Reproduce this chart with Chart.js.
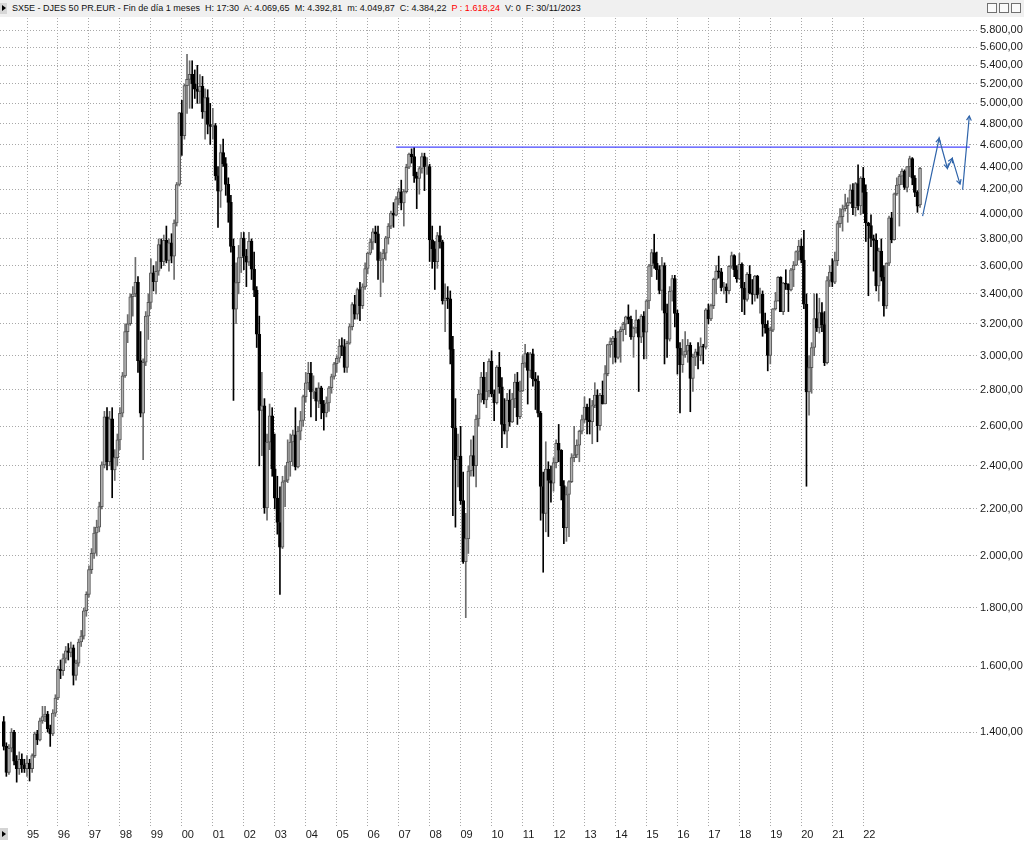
<!DOCTYPE html>
<html>
<head>
<meta charset="utf-8">
<title>SX5E - DJES 50 PR.EUR</title>
<script src="https://cdn.jsdelivr.net/npm/chart.js@4.4.1/dist/chart.umd.min.js"></script>
<style>
  html, body { margin:0; padding:0; background:#fff; }
  #wrap { position:relative; width:1024px; height:843px; overflow:hidden; background:#fff; }
  #chart { position:absolute; left:0; top:0; }
  #hdr { position:absolute; left:0; top:0; width:1024px; height:17px; background:#f0f0f0; z-index:2; }
  #ht { position:absolute; left:12px; top:2px; font-family:"Liberation Sans Narrow","Liberation Sans",Arial,sans-serif; font-size:11px; line-height:13px; color:#111; white-space:pre; }
  #ht .red { color:#ff0000; }
  #lbtn { position:absolute; left:0; top:3px; width:7px; height:11px; background:#d6d6d6; }
  #bbtn { position:absolute; left:0; top:828px; width:8px; height:12px; background:#d4d4d4; z-index:2; }
  .tri { position:absolute; left:2px; top:3px; width:0; height:0; border-top:3px solid transparent; border-bottom:3px solid transparent; border-left:4px solid #000; }
  .ico { position:absolute; top:3px; width:10px; height:10px; border:1px solid #707070; background:#fafafa; box-sizing:border-box; }
</style>
</head>
<body>
<div id="wrap">
  <canvas id="chart" width="1024" height="843"></canvas>
  <div id="hdr">
    <div id="lbtn"><div class="tri" style="left:2px;top:2px"></div></div>
    <span id="ht">SX5E - DJES 50 PR.EUR - Fin de día 1 meses  H: 17:30  A: 4.069,65  M: 4.392,81  m: 4.049,87  C: 4.384,22  <span class="red">P : 1.618,24</span>  V: 0  F: 30/11/2023</span>
    <div class="ico" style="left:987px"></div>
    <div class="ico" style="left:999px"></div>
    <div class="ico" style="left:1011px"></div>
  </div>
  <div id="bbtn"><div class="tri"></div></div>
</div>
<script>
// ---------- data (monthly candles, first candle = April 1994) ----------
const startYear = 1994, startMonth = 4;

const opens = [
  1430,1360,1290,1355,1400,1320,1300,1325,1310,
  1300,1315,1300,1335,1395,1378,1432,1445,1452,1410,1395,1455,
  1500,1590,1585,1625,1650,1645,1660,1570,1610,1680,1700,1790,
  1850,1945,2010,2095,2120,2210,2405,2650,2420,2640,2380,2440,
  2530,2670,2880,3150,3200,3380,3400,3480,2970,2670,2960,3250,
  3342,3547,3484,3559,3757,3629,3788,3638,3769,3669,3924,4242,
  4904,4684,5182,5249,5303,5200,5146,5122,5176,4915,5058,4790,
  4772,4780,4318,4185,4525,4426,4243,4091,3743,3296,3478,3658,
  3806,3670,3625,3784,3574,3425,3133,2685,2710,2204,2518,2656,
  2386,2248,2140,2036,2324,2331,2419,2519,2556,2395,2575,2631,
  2761,2839,2894,2787,2787,2736,2811,2720,2671,2726,2811,2876,
  2951,2984,3058,3056,2930,3076,3182,3326,3263,3429,3320,3448,
  3579,3692,3775,3854,3839,3637,3649,3692,3808,3899,4004,3987,
  4120,4179,4088,4181,4393,4512,4489,4316,4294,4382,4489,4398,
  4400,3792,3725,3628,3826,3777,3352,3367,3366,3038,2592,2430,
  2448,2237,1977,2071,2375,2451,2401,2639,2775,2873,2743,2793,
  2965,2776,2728,2931,2817,2610,2574,2742,2623,2748,2844,2651,
  2793,2954,3013,2911,3011,2862,2849,2670,2302,2180,2385,2330,
  2317,2416,2512,2477,2306,2118,2265,2325,2440,2454,2503,2575,
  2636,2703,2633,2624,2712,2770,2603,2768,2721,2893,3068,3086,
  3109,2989,3149,3162,3198,3245,3229,3116,3173,3226,3114,3251,
  3146,3352,3599,3697,3616,3571,3424,3601,3270,3101,3418,3506,
  3268,3045,2946,3005,3028,3063,2865,2991,3023,3002,3055,3052,
  3291,3231,3320,3501,3560,3555,3442,3449,3421,3595,3674,3570,
  3504,3609,3439,3362,3536,3407,3396,3525,3393,3399,3198,3173,
  3001,3159,3298,3352,3515,3280,3474,3467,3427,3569,3604,3704,
  3745,3641,3329,2787,2928,3050,3234,3174,3273,3194,2958,3493,
  3553,3481,3636,3919,3975,4039,4064,4089,4196,4048,4251,4063,
  4298,4175,3924,3903,3803,3789,3455,3708,3517,3318,3618,3965,
  3794,4163,4238,4315,4359,4218,4399,4471,4297,4175,4069.65
];
const highs = [
  1445,1370,1365,1410,1405,1335,1345,1340,1325,
  1335,1325,1340,1400,1405,1440,1475,1475,1460,1420,1465,1510,
  1600,1620,1640,1665,1675,1680,1670,1620,1690,1720,1800,1860,
  1960,2030,2120,2150,2230,2420,2680,2700,2680,2700,2480,2560,
  2700,2900,3200,3260,3400,3450,3660,3520,3150,2980,3280,3400,
  3650,3600,3630,3800,3800,3830,3900,3800,3840,3950,4260,4910,
  5030,5200,5522,5450,5450,5350,5400,5300,5280,5150,5140,5000,
  4950,4800,4400,4600,4650,4480,4300,4150,3800,3620,3750,3850,
  3850,3720,3850,3800,3700,3450,3250,2900,2750,2560,2720,2700,
  2560,2350,2300,2350,2400,2530,2560,2580,2700,2600,2680,2770,
  2900,2960,2960,2880,2810,2840,2820,2740,2760,2820,2890,2960,
  3000,3100,3110,3100,3090,3200,3340,3390,3440,3480,3470,3620,
  3700,3800,3880,3900,3900,3700,3720,3820,3920,4020,4090,4140,
  4210,4280,4200,4420,4520,4560,4573,4350,4400,4520,4520,4480,
  4420,3900,3780,3850,3900,3790,3470,3450,3420,3120,2750,2560,
  2600,2370,2180,2400,2530,2550,2660,2800,2900,2960,2900,2980,
  3030,2800,2940,3020,2870,2750,2780,2800,2780,2890,2900,2850,
  3000,3070,3020,3020,3040,2900,2880,2680,2370,2520,2420,2400,
  2440,2530,2610,2480,2330,2300,2330,2460,2600,2530,2580,2660,
  2760,2720,2750,2740,2840,2800,2780,2850,2940,3070,3110,3120,
  3160,3150,3180,3210,3250,3325,3250,3180,3290,3230,3260,3280,
  3360,3610,3720,3836,3700,3600,3660,3620,3330,3450,3530,3530,
  3290,3080,3100,3150,3100,3080,3010,3040,3080,3110,3070,3300,
  3330,3330,3510,3600,3670,3580,3480,3470,3600,3700,3680,3600,
  3690,3620,3480,3550,3600,3500,3530,3530,3440,3420,3270,3220,
  3180,3300,3410,3520,3520,3480,3570,3470,3580,3630,3710,3790,
  3800,3867,3400,3000,3080,3400,3400,3370,3340,3280,3520,3600,
  3650,3700,3940,4040,4070,4160,4130,4240,4250,4260,4415,4310,
  4392,4240,3930,3990,3830,3840,3730,3800,3600,3620,3980,4010,
  4170,4300,4330,4380,4370,4400,4493,4480,4320,4190,4392.81
];
const lows = [
  1350,1280,1285,1345,1310,1265,1285,1290,1290,
  1280,1268,1290,1330,1365,1375,1425,1430,1400,1360,1390,1445,
  1495,1560,1570,1610,1620,1630,1540,1555,1600,1665,1690,1770,
  1840,1930,1990,2000,2100,2200,2390,2380,2400,2250,2330,2400,
  2480,2650,2870,3080,3190,3250,3380,2900,2650,2430,2940,3100,
  3300,3420,3400,3530,3580,3600,3620,3560,3620,3500,3900,4230,
  4500,4650,4900,4950,4950,5050,5000,5000,4850,4650,4700,4600,
  4650,4280,3890,4050,4400,4150,3930,3700,2740,3200,3400,3550,
  3570,3450,3600,3500,3380,3050,2400,2450,2180,2150,2480,2350,
  2200,2090,1850,2030,2210,2320,2350,2400,2380,2390,2530,2600,
  2730,2800,2650,2750,2630,2700,2640,2580,2650,2680,2780,2860,
  2900,2960,3000,2900,2900,3070,3160,3230,3230,3220,3300,3430,
  3540,3680,3720,3770,3500,3380,3480,3640,3760,3880,3890,3980,
  4070,4030,3900,4170,4380,4430,4260,4040,4160,4340,4190,4330,
  3630,3580,3430,3580,3730,3330,3150,3300,2950,2170,2120,2300,
  2220,1970,1765,2010,2350,2350,2300,2600,2730,2720,2700,2760,
  2760,2630,2720,2780,2490,2560,2490,2600,2620,2700,2610,2640,
  2790,2930,2720,2870,2820,2690,2650,2150,1935,2100,2080,2230,
  2280,2390,2420,2240,2050,2060,2080,2320,2420,2440,2420,2560,
  2620,2560,2560,2510,2700,2520,2580,2720,2720,2880,2990,2950,
  2960,2980,2960,3090,3130,3200,3100,2990,3140,2790,3080,2980,
  2980,3300,3520,3580,3500,3400,3290,2950,2990,3090,3350,3180,
  2890,2672,2900,2990,2960,2678,2790,2940,2920,2970,2950,3040,
  3200,3220,3300,3400,3510,3420,3400,3340,3400,3580,3520,3480,
  3500,3280,3260,3350,3400,3330,3350,3370,3270,3120,3140,2909,
  2950,3150,3290,3350,3280,3260,3430,3280,3420,3450,3600,3640,
  3620,3300,2303,2660,2780,3000,3150,3140,3150,2940,2950,3450,
  3450,3470,3600,3890,3860,4020,3930,4080,3990,3980,4030,3990,
  4000,3780,3387,3740,3560,3420,3350,3490,3250,3300,3600,3770,
  3790,4150,3900,4240,4200,4180,4310,4240,4140,4010,4049.87
];
const closes = [
  1360,1290,1355,1400,1320,1300,1325,1310,1300,
  1315,1300,1335,1395,1378,1432,1445,1452,1410,1395,1455,1500,
  1590,1585,1625,1650,1645,1660,1570,1610,1680,1700,1790,1850,
  1945,2010,2095,2120,2210,2405,2650,2420,2640,2380,2440,2530,
  2670,2880,3150,3200,3380,3400,3480,2970,2670,2960,3250,3342,
  3547,3484,3559,3757,3629,3788,3638,3769,3669,3924,4242,4904,
  4684,5182,5249,5303,5200,5146,5122,5176,4915,5058,4790,4772,
  4780,4318,4185,4525,4426,4243,4091,3743,3296,3478,3658,3806,
  3670,3625,3784,3574,3425,3133,2685,2710,2204,2518,2656,2386,
  2248,2140,2036,2324,2331,2419,2519,2556,2395,2575,2631,2761,
  2839,2894,2787,2787,2736,2811,2720,2671,2726,2811,2876,2951,
  2984,3058,3056,2930,3076,3182,3326,3263,3429,3320,3448,3579,
  3692,3775,3854,3839,3637,3649,3692,3808,3899,4004,3987,4120,
  4179,4088,4181,4393,4512,4489,4316,4294,4382,4489,4398,4400,
  3792,3725,3628,3826,3777,3352,3367,3366,3038,2592,2430,2448,
  2237,1977,2071,2375,2451,2401,2639,2775,2873,2743,2793,2965,
  2776,2728,2931,2817,2610,2574,2742,2623,2748,2844,2651,2793,
  2954,3013,2911,3011,2862,2849,2670,2302,2180,2385,2330,2317,
  2416,2512,2477,2306,2118,2265,2325,2440,2454,2503,2575,2636,
  2703,2633,2624,2712,2770,2603,2768,2721,2893,3068,3086,3109,
  2989,3149,3162,3198,3245,3229,3116,3173,3226,3114,3251,3146,
  3352,3599,3697,3616,3571,3424,3601,3270,3101,3418,3506,3268,
  3045,2946,3005,3028,3063,2865,2991,3023,3002,3055,3052,3291,
  3231,3320,3501,3560,3555,3442,3449,3421,3595,3674,3570,3504,
  3609,3439,3362,3536,3407,3396,3525,3393,3399,3198,3173,3001,
  3159,3298,3352,3515,3280,3474,3467,3427,3569,3604,3704,3745,
  3641,3329,2787,2928,3050,3234,3174,3273,3194,2958,3493,3553,
  3481,3636,3919,3975,4039,4064,4089,4196,4048,4251,4063,4298,
  4175,3924,3903,3803,3789,3455,3708,3517,3318,3618,3965,3794,
  4163,4238,4315,4359,4218,4399,4471,4297,4175,4061,4384.22
];

// x-axis: year labels placed at January of each year (1995 ... 2022)
const yearLabels = ['95','96','97','98','99','00','01','02','03','04','05','06','07','08','09','10','11','12','13','14','15','16','17','18','19','20','21','22'];
// y-axis ticks
const priceTicks = [1400,1600,1800,2000,2200,2400,2600,2800,3000,3200,3400,3600,3800,4000,4200,4400,4600,4800,5000,5200,5400,5600,5800];

// annotations (x = months since Jan 1995, y = index level)
const resistanceLine = [{x:143.0, y:4575}, {x:365.3, y:4575}];
const projectionA = [{x:347.0, y:3980}, {x:353.4, y:4658}, {x:356.6, y:4384}, {x:358.5, y:4473}, {x:361.5, y:4246}];
const projectionB = [{x:362.5, y:4197}, {x:365.1, y:4873}];

// ---------- chart ----------
const firstIndex = (startYear - 1995) * 12 + (startMonth - 1);
const isUp = closes.map((c, k) => c >= opens[k]);
const wickData = highs.map((h, k) => ({x: firstIndex + k, y: [lows[k], h]}));
const bodyData = closes.map((c, k) => ({x: firstIndex + k, y: [Math.min(opens[k], c), Math.max(opens[k], c)]}));

const PX_PER_MONTH = 2.581, FIRST_JAN_PX = 27, AREA_W = 970;
const xMin = -FIRST_JAN_PX / PX_PER_MONTH;
const xMax = xMin + AREA_W / PX_PER_MONTH;

function fmtPrice(v) {
  const s = Math.round(v).toString();
  return s.replace(/\B(?=(\d{3})+(?!\d))/g, '.') + ',00';
}

const FONT = {family: '"Liberation Sans", Arial, sans-serif', size: 11};
const GRID = '#a8a8a8';

const arrowHeads = {
  id: 'arrowHeads',
  afterDatasetsDraw(chart) {
    const {ctx, scales: {x, y}} = chart;
    ctx.save();
    ctx.strokeStyle = '#2f64aa';
    ctx.lineWidth = 1.2;
    [projectionA, projectionB].forEach(path => {
      for (let k = 1; k < path.length; k++) {
        const x0 = x.getPixelForValue(path[k-1].x), y0 = y.getPixelForValue(path[k-1].y);
        const x1 = x.getPixelForValue(path[k].x), y1 = y.getPixelForValue(path[k].y);
        const a = Math.atan2(y1 - y0, x1 - x0);
        const L = 5, sp = 0.5;
        ctx.beginPath();
        ctx.moveTo(x1 - L * Math.cos(a - sp), y1 - L * Math.sin(a - sp));
        ctx.lineTo(x1, y1);
        ctx.lineTo(x1 - L * Math.cos(a + sp), y1 - L * Math.sin(a + sp));
        ctx.stroke();
      }
    });
    ctx.restore();
  }
};

new Chart(document.getElementById('chart'), {
  type: 'bar',
  data: {
    datasets: [
      {
        label: 'wick', data: wickData, grouped: false, barThickness: 1, minBarLength: 1,
        backgroundColor: isUp.map(u => u ? '#6c6c6c' : '#000000'), borderWidth: 0, order: 3
      },
      {
        label: 'body', data: bodyData, grouped: false, barThickness: 3, minBarLength: 1,
        backgroundColor: isUp.map(u => u ? '#b2b2b2' : '#000000'),
        borderColor: isUp.map(u => u ? '#555555' : '#000000'),
        borderWidth: 1, borderSkipped: false, order: 2
      },
      {
        type: 'line', label: 'resistance', data: resistanceLine,
        borderColor: '#4646ff', borderWidth: 1.2, pointRadius: 0, order: 1
      },
      {
        type: 'line', label: 'projA', data: projectionA, clip: false,
        borderColor: '#2f64aa', borderWidth: 1.2, pointRadius: 0, order: 0
      },
      {
        type: 'line', label: 'projB', data: projectionB, clip: false,
        borderColor: '#2f64aa', borderWidth: 1.2, pointRadius: 0, order: 0
      }
    ]
  },
  options: {
    responsive: false,
    animation: false,
    devicePixelRatio: 1,
    layout: {padding: {top: 18, left: 0, right: 0, bottom: 0}},
    plugins: {legend: {display: false}, tooltip: {enabled: false}},
    scales: {
      x: {
        type: 'linear', min: xMin, max: xMax, offset: false,
        afterBuildTicks: s => { s.ticks = yearLabels.map((_, k) => ({value: 12 * k})); },
        afterFit: s => { s.height = 21; },
        ticks: {
          autoSkip: false, maxRotation: 0, minRotation: 0, labelOffset: 6, padding: 2,
          color: '#1a1a1a', font: FONT,
          callback: (v, i) => yearLabels[i]
        },
        grid: {color: GRID, offset: false, drawTicks: true, tickLength: 4, tickColor: GRID, tickBorderDash: [1, 2]},
        border: {display: false, dash: [1, 2]}
      },
      y: {
        type: 'logarithmic', position: 'right', min: 1167, max: 5943,
        afterBuildTicks: s => { s.ticks = priceTicks.map(v => ({value: v})); },
        afterFit: s => { s.width = 54; },
        ticks: {autoSkip: false, padding: 3, color: '#1a1a1a', font: FONT, callback: v => fmtPrice(v)},
        grid: {color: GRID, drawTicks: true, tickLength: 7, tickColor: GRID, tickBorderDash: [1, 2]},
        border: {display: false, dash: [1, 2]}
      }
    }
  },
  plugins: [arrowHeads]
});

// fit header text to the reference width
(function () {
  const ht = document.getElementById('ht');
  const w = ht.getBoundingClientRect().width;
  const target = 569;
  if (w > 0 && Math.abs(w - target) > 8) {
    ht.style.fontSize = (11 * target / w).toFixed(2) + 'px';
  }
})();
</script>
</body>
</html>
